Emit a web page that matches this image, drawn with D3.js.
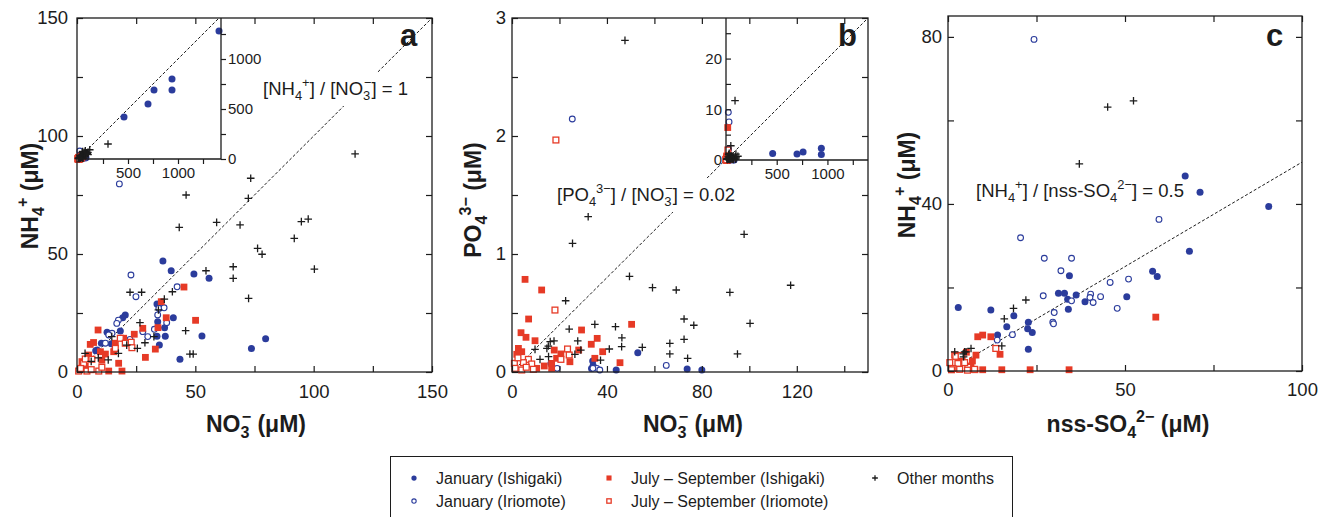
<!DOCTYPE html>
<html>
<head>
<meta charset="utf-8">
<script src="https://cdn.jsdelivr.net/npm/d3@7"></script>
<style>
  body { margin: 0; background: #fff; }
  svg { display: block; font-family: "Liberation Sans", Arial, Helvetica, sans-serif; }
</style>
</head>
<body>
<svg id="chart" width="1327" height="517"></svg>
<script>
// ---------------------------------------------------------------------------
// Rain-water ion concentrations (µM). Each pair is [x, y].
// Series: January (Ishigaki / Iriomote), July–September (Ishigaki / Iriomote),
// and all other months.
// ---------------------------------------------------------------------------

// Panel a: NO3- (x) vs NH4+ (y)
const aJanIsh = [[36.3,47.0],[39.8,42.9],[49.4,41.5],[55.8,39.7],[33.8,28.8],[34.8,27.0],[40.7,23.0],
  [34.1,21.3],[37.0,18.8],[33.8,15.1],[37.3,15.1],[34.8,11.4],[52.8,15.3],[79.7,14.1],[73.7,10.0],
  [43.5,5.4],[20.4,24.2],[19.3,23.0],[18.3,17.4],[12.7,16.8],[8.5,9.3],[10.3,12.2],[7.9,9.0],
  [14.5,12.0],[16.0,9.5],
  [460,420],[700,550],[760,690],[940,800],[940,690],[1410,1280]];
const aJanIri = [[17.9,79.7],[22.8,41.1],[24.9,31.9],[42.3,36.1],[34.6,27.0],[36.8,27.2],[34.1,24.2],
  [37.9,20.9],[29.9,15.0],[27.8,17.1],[32.7,18.1],[17.5,22.0],[16.8,20.6],[14.8,16.4],[22.4,13.8],
  [13.4,15.7],[12.0,12.2]];
const aJulIsh = [[45.2,36.0],[35.6,29.8],[37.7,23.0],[50.1,21.9],[34.2,18.8],[27.8,18.5],[24.2,16.0],
  [33.1,9.7],[28.9,6.2],[8.9,17.8],[19.0,0.4],[13.4,0.4],[17.6,3.7],[5.6,11.7],[9.9,8.6],[12.0,7.6],
  [16.2,12.2],[19.7,14.3],[4.9,7.2],[2.1,4.4],[15.5,8.6],[7.0,12.5],[3.5,2.5],[10.5,5.0]];
const aJulIri = [[18.3,14.3],[22.9,12.6],[20.4,12.2],[23.2,10.3],[16.2,10.0],[6.3,5.4],[0.7,0.4],
  [4.2,0.4],[9.2,0.4],[2.8,3.7],[1.5,1.5],[6.0,1.0],[3.5,5.5],[10.5,2.0]];
const aOther = [[117.5,92.4],[73.4,82.1],[46.1,75.0],[72.4,73.6],[43.2,61.3],[59.0,63.4],[68.9,62.3],
  [94.8,63.7],[97.7,64.8],[91.8,56.6],[76.3,52.4],[78.2,49.9],[54.5,42.9],[66.0,44.6],[66.0,39.7],
  [100.3,43.6],[72.5,31.2],[22.4,33.8],[27.3,33.8],[40.3,34.0],[36.9,30.9],[34.4,26.3],[26.6,20.9],
  [45.9,17.5],[47.7,7.6],[49.1,7.6],[28.7,12.4],[32.5,15.0],[25.5,10.0],[14.7,15.0],[17.5,7.9],
  [13.2,5.1],[3.4,7.9],[21.0,11.4],[9.0,6.0],[6.0,4.5],[300,150]];

// Panel b: NO3- (x) vs PO4 3- (y)
const bJanIsh = [[53.0,0.164],[73.8,0.025],[80.0,0.017],[43.9,0.017],[34.2,0.053],[34.0,0.093],
  [16.4,0.073],[33.5,0.03],
  [460,1.3],[700,1.2],[760,1.6],[940,2.3],[940,1.1],[1410,3.4]];
const bJanIri = [[25.4,2.144],[65.0,0.056],[35.7,0.031],[37.0,0.017],[19.0,0.031],[34.1,0.031],
  [23,9.4],[30,7.5]];
const bJulIsh = [[5.5,0.785],[12.5,0.695],[7.0,0.449],[3.8,0.333],[5.9,0.294],[9.7,0.265],[29.3,0.356],
  [50.4,0.404],[35.9,0.285],[33.4,0.235],[28.1,0.186],[38.2,0.172],[34.9,0.116],[45.5,0.079],
  [17.8,0.186],[20.6,0.153],[24.4,0.087],[13.6,0.051],[16.7,0.031],[2.7,0.2],[4.1,0.172],
  [10.4,0.031],[2.0,0.15],[18.8,0.116],[16.7,0.073],[17,6.4]];
const bJulIri = [[18.5,1.966],[18.1,0.525],[23.4,0.195],[24.1,0.144],[20.6,0.107],[6.9,0.107],
  [4.8,0.079],[1.0,0.073],[1.3,0.031],[4.1,0.017],[8.3,0.068],[9.0,0.023],[2.5,0.12],[6.0,0.04]];
const bOther = [[47.6,2.81],[32.1,1.316],[25.5,1.09],[97.8,1.167],[49.5,0.81],[59.2,0.715],
  [69.2,0.695],[91.8,0.675],[117.4,0.735],[22.6,0.604],[24.1,0.364],[34.9,0.404],[43.6,0.384],
  [72.5,0.449],[76.6,0.396],[100.3,0.412],[46.3,0.29],[46.2,0.215],[66.5,0.243],[72.5,0.277],
  [54.9,0.209],[66.5,0.153],[95.0,0.153],[74.0,0.116],[41.0,0.195],[37.3,0.10],[27.7,0.263],
  [17.7,0.263],[15.3,0.22],[26.5,0.15],[9.7,0.192],[11.8,0.107],[16.1,0.257],[14.7,0.2],
  [29,0.186],[15.4,0.13],[89,11.7]];

// Panel c: nss-SO4 2- (x) vs NH4+ (y)
const cJanIsh = [[67.0,46.7],[71.2,42.8],[90.6,39.4],[68.2,28.7],[57.8,23.9],[59.1,22.6],[50.5,17.8],
  [34.3,22.8],[31.2,18.6],[32.9,18.6],[36.2,18.2],[33.8,17.2],[38.7,16.6],[34.0,14.8],[2.9,15.2],
  [12.1,14.6],[18.6,13.2],[22.7,11.7],[16.6,10.6],[22.5,10.1],[23.8,9.2],[14.0,8.6],[22.7,5.2]];
const cJanIri = [[24.3,79.4],[59.6,36.3],[20.5,31.9],[27.2,27.0],[34.9,27.0],[31.9,24.0],[45.8,21.2],
  [51.0,22.0],[26.9,18.0],[40.3,18.4],[40.1,17.6],[43.1,17.8],[41.0,16.4],[34.9,16.8],[47.8,15.0],
  [30.0,14.0],[29.6,11.7],[29.8,11.3],[18.2,8.7],[13.9,7.4]];
const cJulIsh = [[58.7,12.9],[8.4,8.2],[9.8,8.6],[12.1,8.2],[14.7,4.0],[7.9,3.8],[6.9,2.4],[15.2,0.3],
  [23.2,0.3],[34.2,0.3],[9.8,0.3],[7.6,0.3],[3.6,3.0],[4.0,2.6],[6.5,1.2],[5.2,4.5]];
const cJulIri = [[13.5,5.4],[1.9,3.8],[0.5,2.0],[2.8,1.8],[1.4,0.6],[3.3,0.4],[5.6,0.9],[7.5,0.4],
  [4.7,2.0],[1.0,0.3],[5.5,0.2],[2.2,3.5],[3.7,3.7]];
const cOther = [[45.1,63.2],[52.4,64.7],[37.1,49.6],[22.0,17.0],[18.5,15.0],[15.9,12.5],[15.2,6.0],
  [6.5,5.4],[5.1,4.6],[4.3,4.1],[4.7,4.6],[1.9,4.6],[4.4,3.4]];

// Reference ratio lines (y = slope * x)
const ratioSlopes = { a: 1, b: 0.02, c: 0.5 };

// Tick positions and labelled ticks
const aXTicks = [0,25,50,75,100,125,150], aXLabels = [0,50,100,150];
const aYTicks = [0,25,50,75,100,125,150], aYLabels = [0,50,100,150];
const bXTicks = [0,20,40,60,80,100,120,140], bXLabels = [0,40,80,120];
const bYTicks = [0,0.5,1,1.5,2,2.5,3], bYLabels = [0,1,2,3];
const cXTicks = [0,25,50,75,100], cXLabels = [0,50,100];
const cYTicks = [0,20,40,60,80], cYLabels = [0,40,80];
const aInsetXTicks = [250,500,750,1000,1250], aInsetXLabels = [500,1000];
const aInsetYTicks = [0,250,500,750,1000,1250], aInsetYLabels = [0,500,1000];
const bInsetXTicks = [250,500,750,1000,1250], bInsetXLabels = [500,1000];
const bInsetYTicks = [0,5,10,15,20,25], bInsetYLabels = [0,10,20];

const legendLabels = [
  ["janIsh", "January (Ishigaki)"], ["janIri", "January (Iriomote)"],
  ["julIsh", "July – September (Ishigaki)"], ["julIri", "July – September (Iriomote)"],
  ["other", "Other months"]
];

// ---------------------------------------------------------------------------
const BLUE = "#2b3c9c", RED = "#e63a26", INK = "#1c1c1c";
const svg = d3.select("#chart");

// text with sub/superscripts: parts are strings or [text, "sub"|"sup", dxEm]
function rich(sel, parts, size) {
  let cur = 0;
  parts.forEach(p => {
    const [str, mode, dxEm] = typeof p === "string" ? [p, "n", 0] : p;
    const off = mode === "sub" ? 0.27 * size : mode === "sup" ? -0.42 * size : 0;
    const t = sel.append("tspan")
      .attr("dy", off - cur)
      .attr("font-size", mode === "n" ? size : 0.7 * size)
      .text(str);
    if (dxEm) t.attr("dx", dxEm * size);
    cur = off;
  });
  return sel;
}

function drawMarks(g, pts, kind, x, y, scale = 1) {
  const grp = g.append("g");
  const sel = grp.selectAll(null).data(pts).enter();
  if (kind === "janIsh") {
    sel.append("circle").attr("cx", d => x(d[0])).attr("cy", d => y(d[1]))
      .attr("r", 3.5 * scale).attr("fill", BLUE);
  } else if (kind === "janIri") {
    sel.append("circle").attr("cx", d => x(d[0])).attr("cy", d => y(d[1]))
      .attr("r", 2.9 * scale).attr("fill", "#fff").attr("stroke", BLUE).attr("stroke-width", 1.1);
  } else if (kind === "julIsh") {
    const s = 6.8 * scale;
    sel.append("rect").attr("x", d => x(d[0]) - s / 2).attr("y", d => y(d[1]) - s / 2)
      .attr("width", s).attr("height", s).attr("fill", RED);
  } else if (kind === "julIri") {
    const s = 5.8 * scale;
    sel.append("rect").attr("x", d => x(d[0]) - s / 2).attr("y", d => y(d[1]) - s / 2)
      .attr("width", s).attr("height", s).attr("fill", "#fff").attr("stroke", RED).attr("stroke-width", 1.3);
  } else {
    const a = 3.8 * scale;
    sel.append("path").attr("d", d => `M${x(d[0]) - a},${y(d[1])}h${2 * a}M${x(d[0])},${y(d[1]) - a}v${2 * a}`)
      .attr("stroke", INK).attr("stroke-width", 1.3).attr("fill", "none");
  }
}

const ORDER = ["janIsh", "janIri", "julIsh", "julIri", "other"];

function drawSeries(g, series, x, y) {
  const [xa, xb] = x.domain(), [ya, yb] = y.domain();
  ORDER.forEach(k => {
    const pts = series[k].filter(d => d[0] >= xa && d[0] <= xb && d[1] >= ya && d[1] <= yb);
    drawMarks(g, pts, k, x, y);
  });
}

function styleAxis(a, size) {
  a.select(".domain").remove();
  a.attr("font-family", null).attr("font-size", null);
  a.selectAll("line").attr("stroke", INK).attr("stroke-width", 1.2);
  a.selectAll("text").attr("font-size", size).attr("fill", INK);
}

const lbl = list => d => list.includes(d) ? String(d) : "";

function frameAxes(g, x, y, xt, xl, yt, yl, padX, padY) {
  const [x0, x1] = x.range(), [y1, y0] = y.range();
  const tk = 6;
  styleAxis(g.append("g").attr("transform", `translate(0,${y1})`)
    .call(d3.axisBottom(x).tickValues(xt).tickFormat(lbl(xl)).tickSize(-tk).tickSizeOuter(0).tickPadding(padX)), 18.5);
  styleAxis(g.append("g").attr("transform", `translate(0,${y0})`)
    .call(d3.axisTop(x).tickValues(xt).tickFormat("").tickSize(-tk).tickSizeOuter(0)), 18.5);
  styleAxis(g.append("g").attr("transform", `translate(${x0},0)`)
    .call(d3.axisLeft(y).tickValues(yt).tickFormat(lbl(yl)).tickSize(-tk).tickSizeOuter(0).tickPadding(padY)), 18.5);
  styleAxis(g.append("g").attr("transform", `translate(${x1},0)`)
    .call(d3.axisRight(y).tickValues(yt).tickFormat("").tickSize(-tk).tickSizeOuter(0)), 18.5);
  g.append("rect").attr("x", x0).attr("y", y0).attr("width", x1 - x0).attr("height", y1 - y0)
    .attr("fill", "none").attr("stroke", INK).attr("stroke-width", 1.3);
}

function ratioLine(g, x, y, slope) {
  const xe = Math.min(x.domain()[1], y.domain()[1] / slope);
  g.append("line").attr("x1", x(0)).attr("y1", y(0)).attr("x2", x(xe)).attr("y2", y(slope * xe))
    .attr("stroke", INK).attr("stroke-width", 1).attr("stroke-dasharray", "3,2");
}

function ratioLabel(g, px, py, parts) {
  const t = g.append("text").attr("x", px).attr("y", py).attr("fill", INK);
  rich(t, parts, 18.5);
  const bb = t.node().getBBox();
  g.insert("rect", "text").attr("x", bb.x - 3).attr("y", bb.y - 3)
    .attr("width", bb.width + 6).attr("height", bb.height + 6).attr("fill", "#fff");
}

function yTitle(cx, cy, parts) {
  const t = svg.append("text").attr("transform", `translate(${cx},${cy}) rotate(-90)`)
    .attr("text-anchor", "middle").attr("font-weight", "bold").attr("fill", INK);
  rich(t, parts, 23);
}
function xTitle(cx, cy, parts) {
  const t = svg.append("text").attr("x", cx).attr("y", cy)
    .attr("text-anchor", "middle").attr("font-weight", "bold").attr("fill", INK);
  rich(t, parts, 23);
}
function panelLetter(px, py, s) {
  svg.append("text").attr("x", px).attr("y", py).attr("font-weight", "bold")
    .attr("font-size", 31).attr("fill", INK).text(s);
}

// --------------------------------------------------------------------- panel a
{
  const x = d3.scaleLinear([0, 150], [77, 432]);
  const y = d3.scaleLinear([0, 150], [372, 18]);
  const series = { janIsh: aJanIsh, janIri: aJanIri, julIsh: aJulIsh, julIri: aJulIri, other: aOther };
  const g = svg.append("g");
  ratioLine(g, x, y, ratioSlopes.a);
  const lg = g.append("g");
  ratioLabel(lg, 263, 95, ["[NH", ["4", "sub"], ["+", "sup"], "] / [NO", ["3", "sub"], ["−", "sup", -0.34], "] = 1"]);
  drawSeries(g, series, x, y);

  // inset: full concentration range
  const xi = d3.scaleLinear([0, 1430], [78, 221]);
  const yi = d3.scaleLinear([0, 1410], [159, 18]);
  const ig = svg.append("g");
  ig.append("rect").attr("x", 78).attr("y", 18).attr("width", 143).attr("height", 141).attr("fill", "#fff");
  ratioLine(ig, xi, yi, ratioSlopes.a);
  drawSeries(ig, series, xi, yi);
  styleAxis(ig.append("g").attr("transform", "translate(0,159)")
    .call(d3.axisBottom(xi).tickValues(aInsetXTicks).tickFormat(lbl(aInsetXLabels)).tickSize(5).tickSizeOuter(0).tickPadding(3)), 15);
  styleAxis(ig.append("g").attr("transform", "translate(221,0)")
    .call(d3.axisRight(yi).tickValues(aInsetYTicks).tickFormat(lbl(aInsetYLabels)).tickSize(5).tickSizeOuter(0).tickPadding(2)), 15);
  ig.append("path").attr("d", "M78,159H221V18").attr("fill", "none").attr("stroke", INK).attr("stroke-width", 1.3);

  frameAxes(svg.append("g"), x, y, aXTicks, aXLabels, aYTicks, aYLabels, 13, 9);
  panelLetter(400, 46, "a");
  yTitle(38, 196, ["NH", ["4", "sub"], ["+", "sup"], " (μM)"]);
  xTitle(256, 432, ["NO", ["3", "sub"], ["−", "sup", -0.34], " (μM)"]);
}

// --------------------------------------------------------------------- panel b
{
  const x = d3.scaleLinear([0, 150], [512, 868]);
  const y = d3.scaleLinear([0, 3], [372, 18]);
  const series = { janIsh: bJanIsh, janIri: bJanIri, julIsh: bJulIsh, julIri: bJulIri, other: bOther };
  const g = svg.append("g");
  ratioLine(g, x, y, ratioSlopes.b);
  const lg = g.append("g");
  ratioLabel(lg, 557, 201, ["[PO", ["4", "sub"], ["3−", "sup"], "] / [NO", ["3", "sub"], ["−", "sup", -0.34], "] = 0.02"]);
  drawSeries(g, series, x, y);

  const xi = d3.scaleLinear([0, 1400], [726, 868]);
  const yi = d3.scaleLinear([0, 28], [160, 18]);
  const ig = svg.append("g");
  ig.append("rect").attr("x", 726).attr("y", 18).attr("width", 142).attr("height", 142).attr("fill", "#fff");
  ratioLine(ig, xi, yi, ratioSlopes.b);
  drawSeries(ig, series, xi, yi);
  styleAxis(ig.append("g").attr("transform", "translate(0,160)")
    .call(d3.axisBottom(xi).tickValues(bInsetXTicks).tickFormat(lbl(bInsetXLabels)).tickSize(5).tickSizeOuter(0).tickPadding(3)), 15);
  styleAxis(ig.append("g").attr("transform", "translate(726,0)")
    .call(d3.axisLeft(yi).tickValues(bInsetYTicks).tickFormat(lbl(bInsetYLabels)).tickSize(-5).tickSizeOuter(0).tickPadding(4)), 15);
  ig.append("path").attr("d", "M726,18V160H868").attr("fill", "none").attr("stroke", INK).attr("stroke-width", 1.3);

  frameAxes(svg.append("g"), x, y, bXTicks, bXLabels, bYTicks, bYLabels, 13, 6);
  panelLetter(838, 46, "b");
  yTitle(481, 200, ["PO", ["4", "sub"], ["3−", "sup"], " (μM)"]);
  xTitle(693, 432, ["NO", ["3", "sub"], ["−", "sup", -0.34], " (μM)"]);
}

// --------------------------------------------------------------------- panel c
{
  const x = d3.scaleLinear([0, 100], [948, 1302]);
  const y = d3.scaleLinear([0, 85], [371, 16]);
  const series = { janIsh: cJanIsh, janIri: cJanIri, julIsh: cJulIsh, julIri: cJulIri, other: cOther };
  const g = svg.append("g");
  ratioLine(g, x, y, ratioSlopes.c);
  const lg = g.append("g");
  ratioLabel(lg, 976, 197, ["[NH", ["4", "sub"], ["+", "sup"], "] / [nss-SO", ["4", "sub"], ["2−", "sup"], "] = 0.5"]);
  drawSeries(g, series, x, y);

  frameAxes(svg.append("g"), x, y, cXTicks, cXLabels, cYTicks, cYLabels, 12, 6);
  panelLetter(1266, 46, "c");
  yTitle(915, 185, ["NH", ["4", "sub"], ["+", "sup"], " (μM)"]);
  xTitle(1128, 432, ["nss-SO", ["4", "sub"], ["2−", "sup"], " (μM)"]);
}

// --------------------------------------------------------------------- legend
{
  const lg = svg.append("g");
  lg.append("rect").attr("x", 390.5).attr("y", 456.5).attr("width", 622).attr("height", 80)
    .attr("fill", "#fff").attr("stroke", INK).attr("stroke-width", 1);
  const pos = {
    janIsh: [414, 478], janIri: [414, 501],
    julIsh: [609, 478], julIri: [609, 501],
    other: [875, 478]
  };
  legendLabels.forEach(([k, text]) => {
    const [mx, my] = pos[k];
    drawMarks(lg, [[0, 0]], k, v => mx, v => my, 0.75);
    lg.append("text").attr("x", mx + 22).attr("y", my + 5.5).attr("font-size", 16)
      .attr("fill", INK).text(text);
  });
}
</script>
</body>
</html>
